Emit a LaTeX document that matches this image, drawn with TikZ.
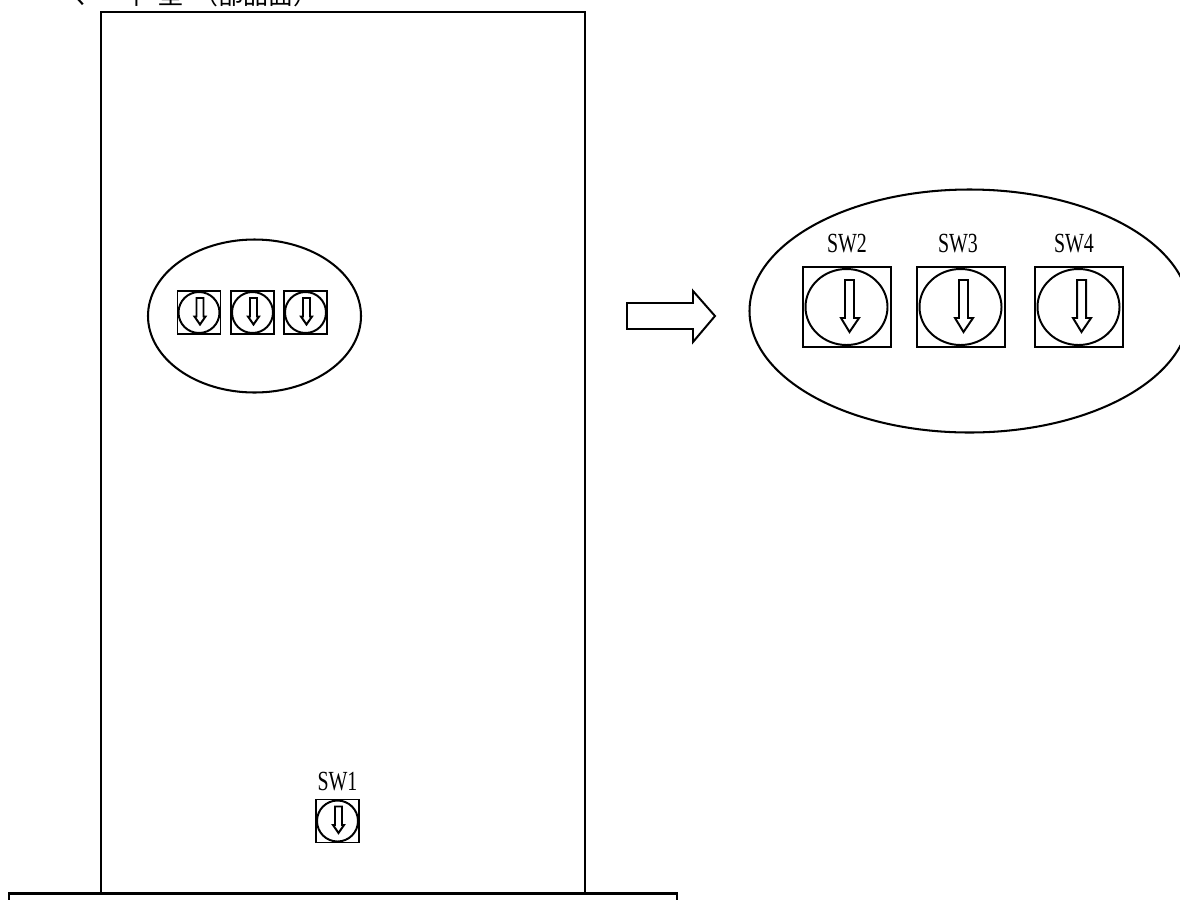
\documentclass[tikz,border=0pt]{standalone}
\usepackage{fontspec}
\setmainfont{Liberation Serif}
\newfontfamily\cjk{Noto Sans CJK JP}
\tikzset{
  x=0.0254cm,y=-0.0254cm,
  ln/.style={draw=black,line width=0.052cm,fill=none},
  part/.style={draw=black,line width=0.05cm,fill=none},
  swlabel/.style={inner sep=0pt,text=black,font=\fontsize{20pt}{20pt}\selectfont},
}
\newcommand{\narrowtext}[1]{\scalebox{0.72}[1]{#1}}
\newcommand{\bigsw}[2]{% cx, cy
  \draw[part] (#1-44,#2-40) rectangle (#1+44,#2+40);
  \draw[part] (#1-0.5,#2) ellipse [x radius=41,y radius=38];
  \draw[part] (#1-2,#2-27) -- (#1+7,#2-27) -- (#1+7,#2+11) -- (#1+12,#2+11) -- (#1+2.5,#2+25) -- (#1-6,#2+11) -- (#1-2,#2+11) -- cycle;
}
\newcommand{\smallsw}[2]{% cx, cy
  \draw[part] (#1-21.5,#2-21.5) rectangle (#1+21.5,#2+21.5);
  \draw[part] (#1,#2) circle [radius=20.5];
  \draw[part] (#1-2.5,#2-14.5) -- (#1+4.5,#2-14.5) -- (#1+4.5,#2+4) -- (#1+6.5,#2+4) -- (#1+1,#2+12) -- (#1-4.5,#2+4) -- (#1-2.5,#2+4) -- cycle;
}
\begin{document}
\begin{tikzpicture}
\useasboundingbox (0,0) rectangle (1180,899);
\clip (0,0) rectangle (1180,899);
% title, cut by the top edge
\node[anchor=base west,inner sep=0pt,font=\cjk\fontsize{18pt}{18pt}\selectfont] (title) at (66,4) {マ\hspace{24pt}平\hspace{7pt}型\hspace{7pt}（部品面）};
% body
\draw[ln] (101,893.5) -- (101,12) -- (585,12) -- (585,893.5);
\draw[ln] (9,905) -- (9,893.5) -- (677,893.5) -- (677,905);
% small ellipse
\draw[ln] (254.5,316) ellipse [x radius=106.5,y radius=76.5];
\smallsw{199}{312.5}
\smallsw{252.5}{312.5}
\smallsw{305.5}{312.5}
% SW1
\node[swlabel] (sw1) at (337.5,782) {\narrowtext{SW1}};
\smallsw{337.5}{821}
% big arrow
\draw[part] (627,303) -- (693,303) -- (693,291) -- (715,316) -- (693,342) -- (693,329) -- (627,329) -- cycle;
% big ellipse
\draw[ln] (969.5,311) ellipse [x radius=220,y radius=121.5];
\bigsw{847}{307}
\bigsw{961}{307}
\bigsw{1079}{307}
\node[swlabel] (swtwo) at (847,244) {\narrowtext{SW2}};
\node[swlabel] (swthree) at (958,244) {\narrowtext{SW3}};
\node[swlabel] (swfour) at (1074,244) {\narrowtext{SW4}};
\end{tikzpicture}
\end{document}
